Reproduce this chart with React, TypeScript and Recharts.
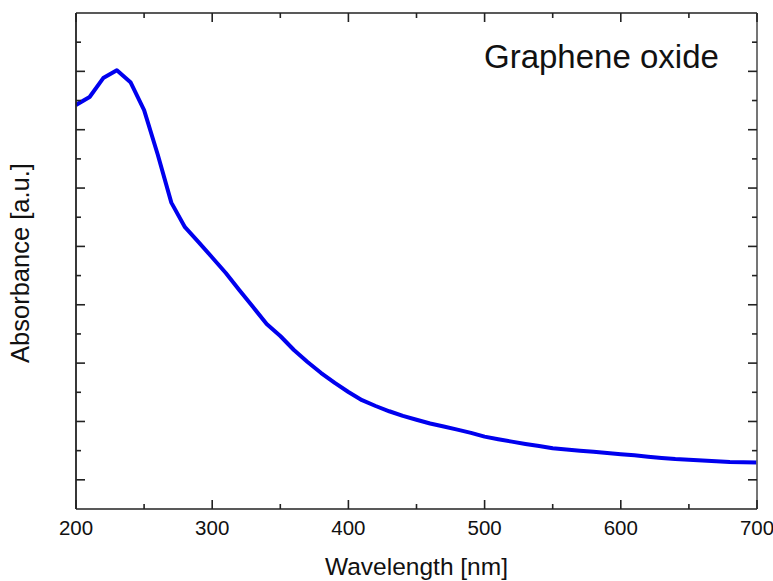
import React from "react";
import { LineChart, Line, XAxis, YAxis } from "recharts";

const wavelengths = [
  200, 210, 220, 230, 240, 250, 260, 270, 280, 290, 300, 310, 320, 330, 340, 350,
  360, 370, 380, 390, 400, 410, 420, 430, 440, 450, 460, 470, 480, 490, 500, 510,
  520, 530, 540, 550, 560, 570, 580, 590, 600, 610, 620, 630, 640, 650, 660, 670,
  680, 690, 700,
];
const absorbance = [
  13.85, 14.12, 14.77, 15.04, 14.63, 13.67, 12.15, 10.5, 9.66, 9.15, 8.62, 8.09,
  7.5, 6.92, 6.34, 5.93, 5.45, 5.04, 4.66, 4.32, 4.01, 3.73, 3.53, 3.35, 3.19,
  3.06, 2.93, 2.83, 2.72, 2.61, 2.48, 2.39, 2.31, 2.23, 2.16, 2.08, 2.04, 2.0,
  1.96, 1.92, 1.88, 1.84, 1.79, 1.75, 1.71, 1.69, 1.66, 1.64, 1.61, 1.6, 1.59,
];
const xTicks = [200, 250, 300, 350, 400, 450, 500, 550, 600, 650, 700];
const xMajor = [200, 300, 400, 500, 600, 700];
const yTicks = [1, 2, 3, 4, 5, 6, 7, 8, 9, 10, 11, 12, 13, 14, 15, 16];
const yMajor = [1, 3, 5, 7, 9, 11, 13, 15];

const title = "Graphene oxide";
const xTitle = "Wavelength [nm]";
const yTitle = "Absorbance [a.u.]";

const data = wavelengths.map((w, i) => ({ w, a: absorbance[i] }));

const FONT = "'Liberation Sans', Arial, sans-serif";
const TICK_COLOR = "#222";

function XTick(props: any) {
  const { x, y, payload, side } = props;
  const major = xMajor.includes(payload.value);
  const len = major ? 9 : 5;
  const dir = side === "top" ? 1 : -1;
  return (
    <g>
      <line x1={x} y1={y} x2={x} y2={y + dir * len} stroke={TICK_COLOR} strokeWidth={1.6} />
      {side === "bottom" && major ? (
        <text x={x} y={y + 26} textAnchor="middle" fontFamily={FONT} fontSize={20.5} fill="#111">
          {payload.value}
        </text>
      ) : null}
    </g>
  );
}

function YTick(props: any) {
  const { x, y, payload, side } = props;
  const major = yMajor.includes(payload.value);
  const len = major ? 9 : 5;
  const dir = side === "left" ? 1 : -1;
  return (
    <g>
      <line x1={x} y1={y} x2={x + dir * len} y2={y} stroke={TICK_COLOR} strokeWidth={1.6} />
    </g>
  );
}

export default function App() {
  return (
    <div style={{ position: "absolute", left: 0, top: 0, width: 773, height: 581, background: "#fff" }}>
      <LineChart
        width={773}
        height={581}
        data={data}
        margin={{ top: 12, right: 15, bottom: 71, left: 75 }}
      >
        <XAxis
          xAxisId="b"
          dataKey="w"
          type="number"
          domain={[200, 700]}
          ticks={xTicks}
          interval={0}
          height={1}
          tickSize={0}
          tickMargin={0}
          tickLine={false}
          axisLine={{ stroke: "#222", strokeWidth: 1.6 }}
          tick={(p: any) => <XTick {...p} side="bottom" />}
          allowDataOverflow
        />
        <XAxis
          xAxisId="t"
          orientation="top"
          dataKey="w"
          type="number"
          domain={[200, 700]}
          ticks={xTicks}
          interval={0}
          height={1}
          tickSize={0}
          tickMargin={0}
          tickLine={false}
          axisLine={{ stroke: "#222", strokeWidth: 1.6 }}
          tick={(p: any) => <XTick {...p} side="top" />}
          allowDataOverflow
        />
        <YAxis
          yAxisId="l"
          type="number"
          domain={[0, 17]}
          ticks={yTicks}
          interval={0}
          width={1}
          tickSize={0}
          tickMargin={0}
          tickLine={false}
          axisLine={{ stroke: "#222", strokeWidth: 1.8 }}
          tick={(p: any) => <YTick {...p} side="left" />}
          allowDataOverflow
        />
        <YAxis
          yAxisId="r"
          orientation="right"
          type="number"
          domain={[0, 17]}
          ticks={yTicks}
          interval={0}
          width={1}
          tickSize={0}
          tickMargin={0}
          tickLine={false}
          axisLine={{ stroke: "#666", strokeWidth: 1.8 }}
          tick={(p: any) => <YTick {...p} side="right" />}
          allowDataOverflow
        />
        <Line
          xAxisId="t"
          yAxisId="r"
          dataKey="a"
          stroke="none"
          dot={false}
          activeDot={false}
          isAnimationActive={false}
        />
        <Line
          xAxisId="b"
          yAxisId="l"
          type="linear"
          dataKey="a"
          stroke="#0000ee"
          strokeWidth={4}
          strokeLinejoin="round"
          dot={false}
          activeDot={false}
          isAnimationActive={false}
        />
      </LineChart>
      <svg
        width={773}
        height={581}
        style={{ position: "absolute", left: 0, top: 0, pointerEvents: "none" }}
      >
        <text x={484} y={68} fontFamily={FONT} fontSize={33} fill="#111">
          {title}
        </text>
        <text x={416.5} y={575} textAnchor="middle" fontFamily={FONT} fontSize={24.5} fill="#111">
          {xTitle}
        </text>
        <text
          x={29}
          y={263}
          textAnchor="middle"
          fontFamily={FONT}
          fontSize={25.5}
          fill="#111"
          transform="rotate(-90 29 263)"
        >
          {yTitle}
        </text>
      </svg>
    </div>
  );
}
